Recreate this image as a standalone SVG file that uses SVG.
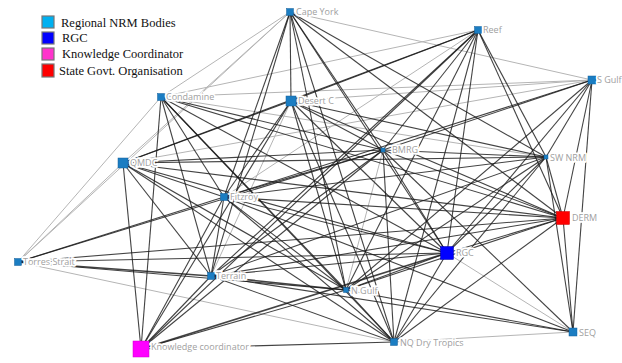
<svg xmlns="http://www.w3.org/2000/svg" width="622" height="363" viewBox="0 0 622 363">
<style>
.d{stroke:#1a1a1a;stroke-width:1.1;stroke-opacity:0.82;fill:none}
.l{stroke:#b5b5b5;stroke-width:1;fill:none}
.n{fill:#1b7dc2;stroke:#14609a;stroke-width:0.5}
.lb{font-family:"Open Sans","DejaVu Sans",sans-serif;font-size:9px;fill:#a0a0a0;stroke:#fff;stroke-width:3.5px;paint-order:stroke;stroke-linejoin:round}
.lg{font-family:"Liberation Serif","Times New Roman",serif;font-size:12.5px;fill:#111}
.lgb{stroke:#777;stroke-width:1.2}
</style>
<rect width="622" height="363" fill="#fff"/>
<g id="connectors">
<line class="l" x1="290" y1="12" x2="161" y2="97"/>
<line class="l" x1="290" y1="12" x2="123" y2="163"/>
<line class="l" x1="290" y1="12" x2="18" y2="262"/>
<line class="l" x1="290" y1="12" x2="592" y2="80"/>
<line class="l" x1="18" y1="262" x2="161" y2="97"/>
<line class="l" x1="18" y1="262" x2="123" y2="163"/>
<line class="l" x1="18" y1="262" x2="394" y2="342"/>
<line class="l" x1="123" y1="163" x2="592" y2="80"/>
<line class="l" x1="161" y1="97" x2="592" y2="80"/>
<line class="l" x1="161" y1="97" x2="546" y2="157"/>
<line class="l" x1="161" y1="97" x2="478" y2="30"/>
<line class="l" x1="291" y1="101" x2="592" y2="80"/>
<line class="l" x1="447" y1="253" x2="573" y2="332"/>
<line class="l" x1="394" y1="342" x2="573" y2="332"/>
<line class="l" x1="224" y1="197" x2="478" y2="30"/>
<line class="l" x1="211" y1="276" x2="291" y2="101"/>
<line class="l" x1="346" y1="290" x2="383" y2="150"/>
<line class="d" x1="290" y1="12" x2="291" y2="101"/>
<line class="d" x1="290" y1="12" x2="224" y2="197"/>
<line class="d" x1="290" y1="12" x2="211" y2="276"/>
<line class="d" x1="290" y1="12" x2="383" y2="150"/>
<line class="d" x1="290" y1="12" x2="546" y2="157"/>
<line class="d" x1="290" y1="12" x2="563" y2="218"/>
<line class="d" x1="290" y1="12" x2="447" y2="253"/>
<line class="d" x1="290" y1="12" x2="346" y2="290"/>
<line class="d" x1="290" y1="12" x2="394" y2="342"/>
<line class="d" x1="478" y1="30" x2="123" y2="163"/>
<line class="d" x1="478" y1="30" x2="291" y2="101"/>
<line class="d" x1="478" y1="30" x2="211" y2="276"/>
<line class="d" x1="478" y1="30" x2="346" y2="290"/>
<line class="d" x1="478" y1="30" x2="383" y2="150"/>
<line class="d" x1="478" y1="30" x2="546" y2="157"/>
<line class="d" x1="478" y1="30" x2="563" y2="218"/>
<line class="d" x1="478" y1="30" x2="447" y2="253"/>
<line class="d" x1="478" y1="30" x2="394" y2="342"/>
<line class="d" x1="478" y1="30" x2="141" y2="349"/>
<line class="d" x1="592" y1="80" x2="383" y2="150"/>
<line class="d" x1="592" y1="80" x2="546" y2="157"/>
<line class="d" x1="592" y1="80" x2="563" y2="218"/>
<line class="d" x1="592" y1="80" x2="447" y2="253"/>
<line class="d" x1="592" y1="80" x2="346" y2="290"/>
<line class="d" x1="592" y1="80" x2="224" y2="197"/>
<line class="d" x1="592" y1="80" x2="573" y2="332"/>
<line class="d" x1="161" y1="97" x2="224" y2="197"/>
<line class="d" x1="161" y1="97" x2="211" y2="276"/>
<line class="d" x1="161" y1="97" x2="383" y2="150"/>
<line class="d" x1="161" y1="97" x2="563" y2="218"/>
<line class="d" x1="161" y1="97" x2="447" y2="253"/>
<line class="d" x1="161" y1="97" x2="346" y2="290"/>
<line class="d" x1="161" y1="97" x2="394" y2="342"/>
<line class="d" x1="161" y1="97" x2="141" y2="349"/>
<line class="d" x1="291" y1="101" x2="224" y2="197"/>
<line class="d" x1="291" y1="101" x2="383" y2="150"/>
<line class="d" x1="291" y1="101" x2="546" y2="157"/>
<line class="d" x1="291" y1="101" x2="563" y2="218"/>
<line class="d" x1="291" y1="101" x2="447" y2="253"/>
<line class="d" x1="291" y1="101" x2="346" y2="290"/>
<line class="d" x1="291" y1="101" x2="394" y2="342"/>
<line class="d" x1="291" y1="101" x2="141" y2="349"/>
<line class="d" x1="291" y1="101" x2="123" y2="163"/>
<line class="d" x1="123" y1="163" x2="383" y2="150"/>
<line class="d" x1="123" y1="163" x2="546" y2="157"/>
<line class="d" x1="123" y1="163" x2="224" y2="197"/>
<line class="d" x1="123" y1="163" x2="211" y2="276"/>
<line class="d" x1="123" y1="163" x2="346" y2="290"/>
<line class="d" x1="123" y1="163" x2="447" y2="253"/>
<line class="d" x1="123" y1="163" x2="563" y2="218"/>
<line class="d" x1="123" y1="163" x2="394" y2="342"/>
<line class="d" x1="123" y1="163" x2="141" y2="349"/>
<line class="d" x1="383" y1="150" x2="546" y2="157"/>
<line class="d" x1="383" y1="150" x2="224" y2="197"/>
<line class="d" x1="383" y1="150" x2="211" y2="276"/>
<line class="d" x1="383" y1="150" x2="563" y2="218"/>
<line class="d" x1="383" y1="150" x2="447" y2="253"/>
<line class="d" x1="383" y1="150" x2="394" y2="342"/>
<line class="d" x1="383" y1="150" x2="573" y2="332"/>
<line class="d" x1="383" y1="150" x2="141" y2="349"/>
<line class="d" x1="383" y1="150" x2="18" y2="262"/>
<line class="d" x1="546" y1="157" x2="224" y2="197"/>
<line class="d" x1="546" y1="157" x2="211" y2="276"/>
<line class="d" x1="546" y1="157" x2="563" y2="218"/>
<line class="d" x1="546" y1="157" x2="447" y2="253"/>
<line class="d" x1="546" y1="157" x2="346" y2="290"/>
<line class="d" x1="546" y1="157" x2="394" y2="342"/>
<line class="d" x1="546" y1="157" x2="573" y2="332"/>
<line class="d" x1="224" y1="197" x2="18" y2="262"/>
<line class="d" x1="224" y1="197" x2="211" y2="276"/>
<line class="d" x1="224" y1="197" x2="563" y2="218"/>
<line class="d" x1="224" y1="197" x2="447" y2="253"/>
<line class="d" x1="224" y1="197" x2="346" y2="290"/>
<line class="d" x1="224" y1="197" x2="394" y2="342"/>
<line class="d" x1="224" y1="197" x2="573" y2="332"/>
<line class="d" x1="224" y1="197" x2="141" y2="349"/>
<line class="d" x1="563" y1="218" x2="18" y2="262"/>
<line class="d" x1="563" y1="218" x2="447" y2="253"/>
<line class="d" x1="563" y1="218" x2="346" y2="290"/>
<line class="d" x1="563" y1="218" x2="394" y2="342"/>
<line class="d" x1="563" y1="218" x2="573" y2="332"/>
<line class="d" x1="563" y1="218" x2="211" y2="276"/>
<line class="d" x1="447" y1="253" x2="211" y2="276"/>
<line class="d" x1="447" y1="253" x2="346" y2="290"/>
<line class="d" x1="447" y1="253" x2="394" y2="342"/>
<line class="d" x1="447" y1="253" x2="141" y2="349" style="stroke-width:1.6"/>
<line class="d" x1="447" y1="253" x2="18" y2="262"/>
<line class="d" x1="211" y1="276" x2="18" y2="262" style="stroke-width:1.6"/>
<line class="d" x1="211" y1="276" x2="346" y2="290" style="stroke-width:1.6"/>
<line class="d" x1="211" y1="276" x2="394" y2="342"/>
<line class="d" x1="211" y1="276" x2="573" y2="332"/>
<line class="d" x1="211" y1="276" x2="141" y2="349"/>
<line class="d" x1="346" y1="290" x2="394" y2="342"/>
<line class="d" x1="346" y1="290" x2="573" y2="332"/>
<line class="d" x1="346" y1="290" x2="141" y2="349"/>
<line class="d" x1="346" y1="290" x2="18" y2="262"/>
<line class="d" x1="394" y1="342" x2="141" y2="349"/>
</g>
<g id="n-cape-york"><rect class="n" x="286.5" y="8.5" width="7" height="7"/><text class="lb" x="296" y="15">Cape York</text></g>
<g id="n-reef"><rect class="n" x="474.5" y="26.5" width="7" height="7"/><text class="lb" x="483" y="33">Reef</text></g>
<g id="n-s-gulf"><rect class="n" x="588" y="76" width="8" height="8"/><text class="lb" x="597" y="83">S Gulf</text></g>
<g id="n-condamine"><rect class="n" x="157.5" y="93.5" width="7" height="7"/><text class="lb" x="166" y="100">Condamine</text></g>
<g id="n-desert-c"><rect class="n" x="286" y="96" width="10" height="10"/><text class="lb" x="298" y="104">Desert C</text></g>
<g id="n-qmdc"><rect class="n" x="118" y="158" width="10" height="10"/><text class="lb" x="130" y="166">QMDC</text></g>
<g id="n-bmrg"><rect class="n" x="381" y="148" width="4" height="4"/><text class="lb" x="392" y="153">BMRG</text></g>
<g id="n-sw-nrm"><rect class="n" x="544" y="155" width="4" height="4"/><text class="lb" x="550" y="161">SW NRM</text></g>
<g id="n-fitzroy"><rect class="n" x="220.5" y="193.5" width="7" height="7"/><text class="lb" x="230" y="200">Fitzroy</text></g>
<g id="n-derm"><rect x="556.5" y="211.5" width="13" height="13" fill="#ff0000" stroke="#c00" stroke-width="0.5"/><text class="lb" x="572" y="221">DERM</text></g>
<g id="n-rgc"><rect x="440.5" y="246.5" width="13" height="13" fill="#0000ff" stroke="#0000aa" stroke-width="0.5"/><text class="lb" x="456" y="256">RGC</text></g>
<g id="n-torres-strait"><rect class="n" x="14.5" y="258.5" width="7" height="7"/><text class="lb" x="23" y="265">Torres Strait</text></g>
<g id="n-terrain"><rect class="n" x="207.5" y="272.5" width="7" height="7"/><text class="lb" x="216" y="279">Terrain</text></g>
<g id="n-n-gulf"><rect class="n" x="343.5" y="287.5" width="5" height="5"/><text class="lb" x="351" y="294">N Gulf</text></g>
<g id="n-knowledge-coordinator"><rect x="133" y="341" width="16" height="16" fill="#ff00ff" stroke="#cc00cc" stroke-width="0.5"/><text class="lb" x="151" y="350">Knowledge coordinator</text></g>
<g id="n-nq-dry-tropics"><rect class="n" x="390.5" y="338.5" width="7" height="7"/><text class="lb" x="400" y="346">NQ Dry Tropics</text></g>
<g id="n-seq"><rect class="n" x="569" y="328" width="8" height="8"/><text class="lb" x="579" y="336">SEQ</text></g>
<g id="legend">
<rect class="lgb" x="42" y="16" width="12" height="12" fill="#00b0f0"/>
<text class="lg" x="61" y="27">Regional NRM Bodies</text>
<rect class="lgb" x="42" y="32" width="12" height="12" fill="#0000ff"/>
<text class="lg" x="62" y="42">RGC</text>
<rect class="lgb" x="42" y="48" width="12" height="12" fill="#ff33cc"/>
<text class="lg" x="62" y="58">Knowledge Coordinator</text>
<rect class="lgb" x="42" y="64" width="12" height="13" fill="#ff0000"/>
<text class="lg" x="59" y="75">State Govt. Organisation</text>
</g>
</svg>
